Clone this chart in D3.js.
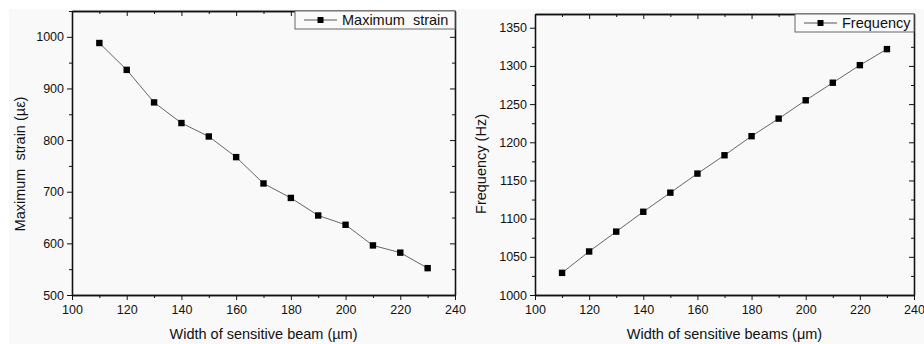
<!doctype html>
<html>
<head>
<meta charset="utf-8">
<script src="https://cdn.jsdelivr.net/npm/d3@7"></script>
<style>
	body { margin: 0; background: #fff; }
	svg text { font-family: "Liberation Sans", Arial, sans-serif; fill: #111; white-space: pre; }
	.axis path, .axis line { stroke: #111; }
</style>
</head>
<body>
<div id="main"></div>
<script>
	// data
	var widths = [110, 120, 130, 140, 150, 160, 170, 180, 190, 200, 210, 220, 230];
	var maxStrain = [988, 936, 873, 833, 807, 767, 716, 688, 654, 636, 596, 582, 552];
	var frequency = [1029, 1057, 1083, 1109, 1134, 1159, 1183, 1208, 1231, 1255, 1278, 1301, 1322];

	var xTicks = [100, 120, 140, 160, 180, 200, 220, 240];
	var strainTicks = [500, 600, 700, 800, 900, 1000];
	var freqTicks = [1000, 1050, 1100, 1150, 1200, 1250, 1300, 1350];

	var svg = d3.select('#main').append('svg')
		.attr('width', 924)
		.attr('height', 344);

	// faint grey paper behind both plots
	svg.append('rect')
		.attr('x', 9).attr('y', 9)
		.attr('width', 915).attr('height', 335)
		.style('fill', '#f9f9f9');

	drawPanel({
		left: 72, top: 11, right: 455, bottom: 295,
		xDomain: [100, 240], yDomain: [500, 1050],
		yTicks: strainTicks, yMinorStep: 50,
		values: maxStrain,
		yLabel: 'Maximum  strain (\u00b5\u03b5)', yLabelX: 20,
		xLabel: 'Width of sensitive beam (\u00b5m)',
		legend: 'Maximum  strain', legendLeft: 295
	});

	drawPanel({
		left: 535, top: 14, right: 914, bottom: 295,
		xDomain: [100, 240], yDomain: [1000, 1368],
		yTicks: freqTicks, yMinorStep: 25,
		values: frequency,
		yLabel: 'Frequency (Hz)', yLabelX: 481,
		xLabel: 'Width of sensitive beams (\u03bcm)',
		legend: 'Frequency', legendLeft: 795
	});

	function minors(domain, step, majors) {
		var out = [];
		for (var v = Math.ceil(domain[0] / step) * step; v <= domain[1] + 1e-9; v += step) {
			if (majors.indexOf(v) < 0) out.push(v);
		}
		return out;
	}

	function drawPanel(p) {
		var x = d3.scaleLinear().domain(p.xDomain).range([p.left, p.right]);
		var y = d3.scaleLinear().domain(p.yDomain).range([p.bottom, p.top]);
		var xMinor = minors(p.xDomain, 10, xTicks);
		var yMinor = minors(p.yDomain, p.yMinorStep, p.yTicks);
		var fmt = d3.format('d');
		var g = svg.append('g');

		// bottom + left: outward ticks with labels
		g.append('g').attr('class', 'axis')
			.attr('transform', 'translate(0,' + p.bottom + ')')
			.call(d3.axisBottom(x).tickValues(xTicks).tickFormat(fmt).tickSize(5).tickSizeOuter(0).tickPadding(5))
			.selectAll('text').style('font-size', '12.5px');
		g.append('g').attr('class', 'axis')
			.attr('transform', 'translate(0,' + p.bottom + ')')
			.call(d3.axisBottom(x).tickValues(xMinor).tickSize(3).tickSizeOuter(0).tickFormat(''));
		g.append('g').attr('class', 'axis')
			.attr('transform', 'translate(' + p.left + ',0)')
			.call(d3.axisLeft(y).tickValues(p.yTicks).tickFormat(fmt).tickSize(5).tickSizeOuter(0).tickPadding(3))
			.selectAll('text').style('font-size', '12.5px');
		g.append('g').attr('class', 'axis')
			.attr('transform', 'translate(' + p.left + ',0)')
			.call(d3.axisLeft(y).tickValues(yMinor).tickSize(3).tickSizeOuter(0).tickFormat(''));

		// top + right: inward ticks, no labels
		g.append('g').attr('class', 'axis')
			.attr('transform', 'translate(0,' + p.top + ')')
			.call(d3.axisTop(x).tickValues(xTicks).tickSize(-5).tickSizeOuter(0).tickFormat(''));
		g.append('g').attr('class', 'axis')
			.attr('transform', 'translate(0,' + p.top + ')')
			.call(d3.axisTop(x).tickValues(xMinor).tickSize(-3).tickSizeOuter(0).tickFormat(''));
		g.append('g').attr('class', 'axis')
			.attr('transform', 'translate(' + p.right + ',0)')
			.call(d3.axisRight(y).tickValues(p.yTicks).tickSize(-5).tickSizeOuter(0).tickFormat(''));
		g.append('g').attr('class', 'axis')
			.attr('transform', 'translate(' + p.right + ',0)')
			.call(d3.axisRight(y).tickValues(yMinor).tickSize(-3).tickSizeOuter(0).tickFormat(''));

		g.selectAll('.axis path').style('stroke-width', 1.3);

		// series
		var pts = widths.map(function(w, i) { return [w, p.values[i]]; });
		g.append('path')
			.datum(pts)
			.attr('d', d3.line().x(function(d) { return x(d[0]); }).y(function(d) { return y(d[1]); }))
			.style('fill', 'none')
			.style('stroke', '#555')
			.style('stroke-width', 0.9);
		g.selectAll('rect.pt').data(pts).enter().append('rect')
			.attr('class', 'pt')
			.attr('x', function(d) { return x(d[0]) - 3.2; })
			.attr('y', function(d) { return y(d[1]) - 3.2; })
			.attr('width', 6.4).attr('height', 6.4)
			.style('fill', '#000');

		// axis titles
		g.append('text')
			.attr('transform', 'translate(' + p.yLabelX + ',164) rotate(-90)')
			.attr('text-anchor', 'middle')
			.attr('dy', '0.35em')
			.style('font-size', '14.5px')
			.text(p.yLabel);
		g.append('text')
			.attr('x', (p.left + p.right) / 2)
			.attr('y', 339)
			.attr('text-anchor', 'middle')
			.style('font-size', '14.5px')
			.text(p.xLabel);

		// legend box in the top right corner
		var lg = g.append('g');
		lg.append('rect')
			.attr('x', p.legendLeft).attr('y', p.top)
			.attr('width', p.right - p.legendLeft).attr('height', 18)
			.style('fill', '#fafafa')
			.style('stroke', '#666')
			.style('stroke-width', 1);
		lg.append('line')
			.attr('x1', p.legendLeft + 9).attr('x2', p.legendLeft + 42)
			.attr('y1', p.top + 9).attr('y2', p.top + 9)
			.style('stroke', '#555');
		lg.append('rect')
			.attr('x', p.legendLeft + 22.5).attr('y', p.top + 6)
			.attr('width', 6).attr('height', 6)
			.style('fill', '#000');
		lg.append('text')
			.attr('x', p.legendLeft + 47).attr('y', p.top + 14)
			.style('font-size', '14.5px')
			.text(p.legend);
	}
</script>
</body>
</html>
